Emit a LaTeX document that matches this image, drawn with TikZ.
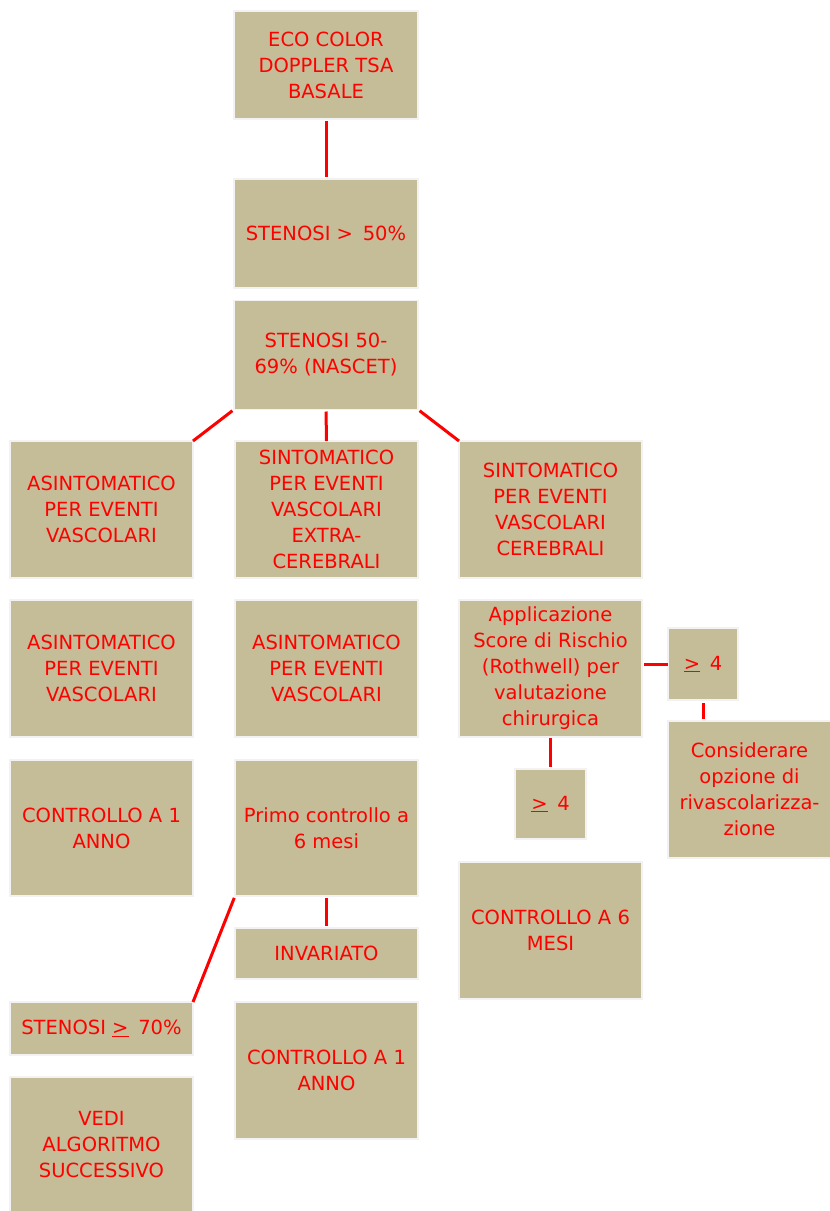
\documentclass[tikz,border=0pt]{standalone}
\usepackage{fontspec}
\setmainfont{DejaVu Sans}
\begin{document}
\begin{tikzpicture}[x=1pt,y=-1pt,
  box/.style={rectangle, fill=tan, draw=black!5, line width=1.5pt,
    inner sep=0pt, outer sep=0pt, align=center, text=red,
    font=\fontsize{19.5}{26}\selectfont},
  link/.style={draw=red, line width=3pt}]
\definecolor{tan}{HTML}{C4BD97}
\useasboundingbox (0,0) rectangle (830,1211);
% centre column
\node[box, minimum width=184, minimum height=108] (eco) at (326,65) {ECO COLOR\\DOPPLER TSA\\BASALE};
\node[box, minimum width=184, minimum height=109] (s50) at (326,233.5) {STENOSI >\enspace 50\%};
\node[box, minimum width=184, minimum height=109] (s69) at (326,355) {STENOSI 50-\\69\% (NASCET)};
% first row of branches
\node[box, minimum width=183, minimum height=137] (asi1) at (101.5,509.5) {ASINTOMATICO\\PER EVENTI\\VASCOLARI};
\node[box, minimum width=183, minimum height=137] (sinx) at (326.5,509.5) {SINTOMATICO\\PER EVENTI\\VASCOLARI\\EXTRA-\\CEREBRALI};
\node[box, minimum width=183, minimum height=137] (sinc) at (550.5,509.5) {SINTOMATICO\\PER EVENTI\\VASCOLARI\\CEREBRALI};
% second row
\node[box, minimum width=183, minimum height=137] (asi2) at (101.5,668.5) {ASINTOMATICO\\PER EVENTI\\VASCOLARI};
\node[box, minimum width=183, minimum height=137] (asi3) at (326.5,668.5) {ASINTOMATICO\\PER EVENTI\\VASCOLARI};
\node[box, minimum width=183, minimum height=137] (app) at (550.5,668.5) {Applicazione\\Score di Rischio\\(Rothwell) per\\valutazione\\chirurgica};
\node[box, minimum width=70, minimum height=72] (ge4a) at (703,664) {\underline{>}\enspace4};
\node[box, minimum width=163, minimum height=137] (cons) at (749.5,789.5) {Considerare\\opzione di\\rivascolarizza-\\zione};
% third row
\node[box, minimum width=183, minimum height=136] (c1a) at (101.5,828) {CONTROLLO A 1\\ANNO};
\node[box, minimum width=183, minimum height=136] (primo) at (326.5,828) {Primo controllo a\\6 mesi};
\node[box, minimum width=71, minimum height=70] (ge4b) at (550.5,804) {\underline{>}\enspace4};
\node[box, minimum width=183, minimum height=137] (c6m) at (550.5,930.5) {CONTROLLO A 6\\MESI};
% bottom
\node[box, minimum width=183, minimum height=51] (inv) at (326.5,953.5) {INVARIATO};
\node[box, minimum width=183, minimum height=53] (s70) at (101.5,1028.5) {STENOSI \underline{>}\enspace70\%};
\node[box, minimum width=183, minimum height=137] (c1b) at (326.5,1070.5) {CONTROLLO A 1\\ANNO};
\node[box, minimum width=183, minimum height=136] (vedi) at (101.5,1145) {VEDI\\ALGORITMO\\SUCCESSIVO};
% connectors
\draw[link, shorten <=2pt, shorten >=2pt] (eco.south) -- (s50.north);
\draw[link, shorten <=2pt] (s69.south west) -- (asi1.north east);
\draw[link, shorten <=2pt] (s69.south) -- (sinx.north);
\draw[link, shorten <=2pt] (s69.south east) -- (sinc.north west);
\draw[link, shorten <=2pt] (primo.south west) -- (s70.north east);
\draw[link, shorten <=2pt, shorten >=2pt] (primo.south) -- (inv.north);
\draw[link, shorten <=2pt] (app.east |- ge4a.west) -- (ge4a.west);
\draw[link, shorten <=3pt, shorten >=2pt] (ge4a.south) -- (ge4a.south |- cons.north);
\draw[link, shorten <=1pt, shorten >=2pt] (app.south) -- (ge4b.north);
\end{tikzpicture}
\end{document}
